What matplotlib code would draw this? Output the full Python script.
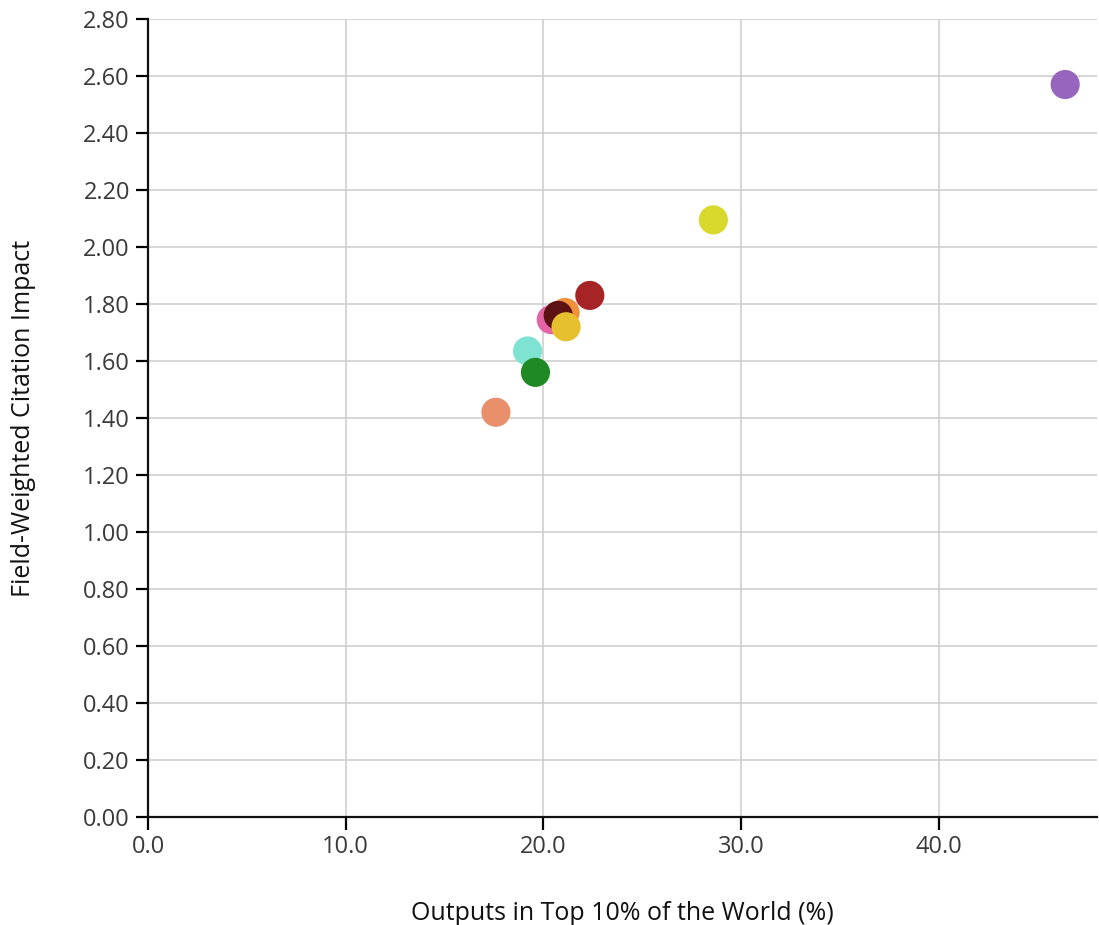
import matplotlib
matplotlib.use("Agg")
import matplotlib.pyplot as plt
import numpy as np

plt.rcParams['font.family'] = ['Open Sans', 'DejaVu Sans']

# values (drawing order: later points sit on top)
top10_pct = [17.6, 19.2, 19.6, 20.4, 21.1, 20.75, 21.15, 22.35, 28.6, 46.4]
fwci = [1.42, 1.635, 1.56, 1.745, 1.77, 1.76, 1.72, 1.83, 2.095, 2.57]
colors = ["#e98f6c", "#7ee3d0", "#1f8a23", "#e464a6", "#f0913a",
          "#5c1212", "#e6c02e", "#a72426", "#d9d82c", "#9665bd"]

x_ticks = [0, 10, 20, 30, 40]
y_ticks = np.arange(0, 2.81, 0.2)

fig = plt.figure(figsize=(10.99, 9.25), dpi=100)
ax = fig.add_axes([0.1347, 0.1168, 0.8633, 0.8627])

ax.scatter(top10_pct, fwci, s=440, c=colors, linewidths=0, zorder=3)

ax.set_xlim(0, 48.0)
ax.set_ylim(0, 2.8)
ax.set_xticks(x_ticks)
ax.set_xticklabels([f"{v:.1f}" for v in x_ticks])
ax.set_yticks(y_ticks)
ax.set_yticklabels([f"{v:.2f}" for v in y_ticks])

ax.grid(True, color="#cccccc", lw=1.1, zorder=0)
ax.set_axisbelow(True)
for side in ("top", "right"):
    ax.spines[side].set_visible(False)
for side in ("left", "bottom"):
    ax.spines[side].set_linewidth(1.6)
    ax.spines[side].set_color("#111111")
ax.tick_params(axis="both", direction="out", length=9, width=1.6,
               labelsize=17, labelcolor="#3a3a3a", pad=4)

ax.set_xlabel("Outputs in Top 10% of the World (%)", fontsize=18,
              labelpad=30, color="#111111")
ax.set_ylabel("Field-Weighted Citation Impact", fontsize=18,
              labelpad=34, color="#111111")

fig.savefig("out.png", dpi=100, facecolor="white")
